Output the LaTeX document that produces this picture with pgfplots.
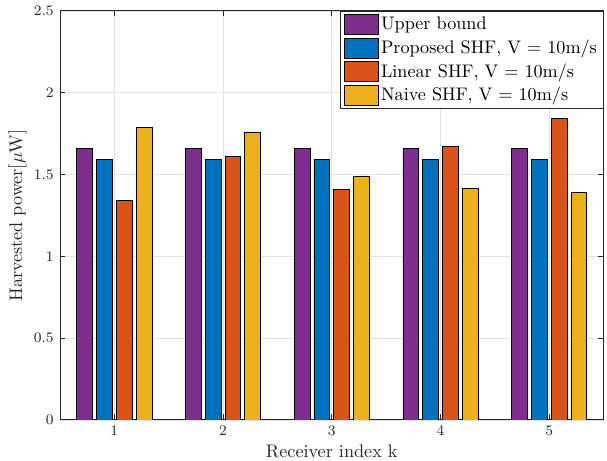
\documentclass[border=0pt]{standalone}
\usepackage{pgfplots}
\pgfplotsset{compat=1.18}
\definecolor{c1}{rgb}{0.494,0.184,0.556}
\definecolor{c2}{rgb}{0,0.447,0.741}
\definecolor{c3}{rgb}{0.85,0.325,0.098}
\definecolor{c4}{rgb}{0.929,0.694,0.125}
\definecolor{axc}{rgb}{0.15,0.15,0.15}
\begin{document}
\begin{tikzpicture}
\begin{axis}[name=ax, scale only axis, width=299pt, height=225pt,
  xmin=0.5, xmax=5.5, ymin=0, ymax=2.5,
  xtick={1,2,3,4,5}, ytick={0,0.5,1,1.5,2,2.5},
  yticklabels={0,0.5,1,1.5,2,2.5},
  ybar, bar width=0.145,
  grid=major, grid style={gray!22, line width=0.4pt},
  tick align=inside, major tick length=3pt,
  axis line style={axc, line width=0.5pt}, tick style={axc, line width=0.5pt},
  ticklabel style={font=\footnotesize, text=axc},
  xlabel={Receiver index k}, ylabel={Harvested power[$\mu$W]},
  label style={text=axc},
  x label style={at={(axis description cs:0.5,-0.078)}, anchor=center},
  y label style={at={(axis description cs:-0.078,0.5)}, anchor=center},
  legend style={at={(1,1)}, anchor=north east, draw=axc, line width=0.5pt,
    inner xsep=2.2pt, inner ysep=1.5pt, row sep=1.6pt, font=\normalsize, cells={anchor=west},
    nodes={inner sep=1.2pt}},
  every axis plot/.append style={draw=black, line width=0.4pt,
    legend image code/.code={\draw[##1,draw=black] (0pt,-5.5pt) rectangle (18.5pt,5.5pt);}},
]
\addplot[fill=c1, bar shift=-0.273] coordinates {(1,1.66) (2,1.66) (3,1.66) (4,1.66) (5,1.66)};
\addplot[fill=c2, bar shift=-0.091] coordinates {(1,1.594) (2,1.594) (3,1.594) (4,1.594) (5,1.594)};
\addplot[fill=c3, bar shift=0.091] coordinates {(1,1.344) (2,1.61) (3,1.41) (4,1.669) (5,1.842)};
\addplot[fill=c4, bar shift=0.273] coordinates {(1,1.789) (2,1.76) (3,1.491) (4,1.416) (5,1.392)};
\legend{Upper bound, {Proposed SHF, V = 10m/s}, {Linear SHF, V = 10m/s}, {Naive SHF, V = 10m/s}}
\end{axis}
\pgfresetboundingbox
\useasboundingbox ([xshift=-33pt,yshift=-22.5pt]ax.south west) rectangle ([xshift=1.9pt,yshift=6pt]ax.north east);
\end{tikzpicture}
\end{document}
